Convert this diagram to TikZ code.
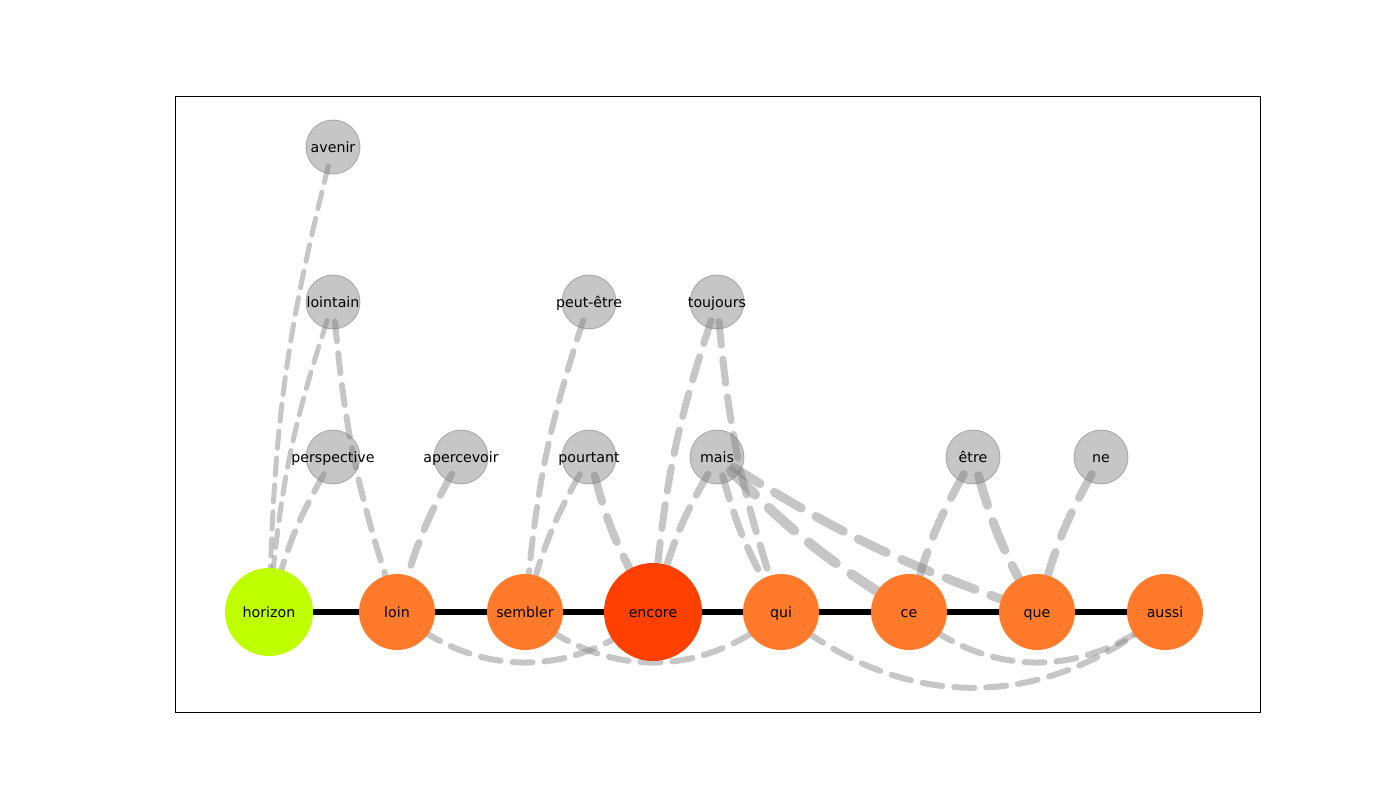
\documentclass[tikz,border=0pt]{standalone}
\usepackage{fontspec}
\setmainfont{DejaVu Sans}
\pgfdeclarelayer{bg}
\pgfsetlayers{bg,main}
\definecolor{orng}{RGB}{255,122,42}
\definecolor{encc}{RGB}{255,64,0}
\definecolor{limec}{RGB}{192,255,0}
\definecolor{gbase}{RGB}{128,128,128}
\begin{document}
\begin{tikzpicture}[x=1pt,y=-1pt,
  lbl/.style={font=\fontsize{14.2}{16}\selectfont, text=black, text opacity=1, inner sep=0pt,
              text height=13pt, text depth=3pt},
  mainn/.style={circle, inner sep=0pt, minimum size=76pt, fill=orng, lbl},
  grayn/.style={circle, inner sep=0pt, minimum size=54pt, fill=gbase, fill opacity=0.45,
                draw=gbase, draw opacity=0.5, line width=1pt, label={[lbl]center:#1}},
  ge/.style={draw=gbase, draw opacity=0.45, line cap=round, shorten <=-8pt},
  w5/.style={ge, line width=5pt, dash pattern=on 17pt off 10pt},
  w6/.style={ge, line width=6pt, dash pattern=on 20pt off 12pt},
  w7/.style={ge, line width=7pt, dash pattern=on 24pt off 14pt},
  w8/.style={ge, line width=8pt, dash pattern=on 27pt off 16pt},
  w9/.style={ge, line width=9pt, dash pattern=on 31pt off 17pt},
  w10/.style={ge, line width=10pt, dash pattern=on 34pt off 19pt},
  chain/.style={draw=black, line width=6.5pt},
  arcb/.style={bend right=40, looseness=1.05},
  upb/.style={bend right=6}
]
\useasboundingbox (0,0) rectangle (1400,800);
\draw[line width=0.9pt] (175,96) rectangle (1260,712);

% main row
\node[mainn, fill=limec, minimum size=88pt] (horizon) at (269,612) {horizon};
\node[mainn] (loin) at (397,612) {loin};
\node[mainn] (sembler) at (525,612) {sembler};
\node[mainn, fill=encc, minimum size=98pt] (encore) at (653,612) {encore};
\node[mainn] (qui) at (781,612) {qui};
\node[mainn] (ce) at (909,612) {ce};
\node[mainn] (que) at (1037,612) {que};
\node[mainn] (aussi) at (1165,612) {aussi};

% gray nodes
\node[grayn=perspective] (perspective) at (333,457) {};
\node[grayn=apercevoir] (apercevoir) at (461,457) {};
\node[grayn=pourtant] (pourtant) at (589,457) {};
\node[grayn=mais] (mais) at (717,457) {};
\node[grayn=être] (etre) at (973,457) {};
\node[grayn=ne] (ne) at (1101,457) {};
\node[grayn=lointain] (lointain) at (333,302) {};
\node[grayn=peut-être] (peutetre) at (589,302) {};
\node[grayn=toujours] (toujours) at (717,302) {};
\node[grayn=avenir] (avenir) at (333,147) {};

\begin{pgfonlayer}{bg}
  \draw[chain] (horizon) -- (loin);
  \draw[chain] (loin) -- (sembler);
  \draw[chain] (sembler) -- (encore);
  \draw[chain] (encore) -- (qui);
  \draw[chain] (qui) -- (ce);
  \draw[chain] (ce) -- (que);
  \draw[chain] (que) -- (aussi);

  \draw[w5] (avenir) to[upb] (horizon);
  \draw[w5] (lointain) to[upb] (horizon);
  \draw[w6] (perspective) to[upb] (horizon);
  \draw[w6] (lointain) to[upb] (loin);
  \draw[w7] (apercevoir) to[upb] (loin);
  \draw[w6] (peutetre) to[upb] (sembler);
  \draw[w6] (pourtant) to[upb] (sembler);
  \draw[w8] (pourtant) to[upb] (encore);
  \draw[w7] (toujours) to[upb] (encore);
  \draw[w7] (mais) to[upb] (encore);
  \draw[w7] (toujours) to[upb] (qui);
  \draw[w7] (mais) to[upb] (qui);
  \draw[w10] (mais) to[upb] (ce);
  \draw[w9] (mais) to[upb] (que);
  \draw[w8] (etre) to[upb] (ce);
  \draw[w9] (etre) to[upb] (que);
  \draw[w8] (ne) to[upb] (que);

  \draw[w6, shorten <=0pt] (loin.center) to[arcb] (encore.center);
  \draw[w6, shorten <=0pt] (sembler.center) to[arcb] (qui.center);
  \draw[w6, shorten <=0pt] (qui.center) to[arcb] (aussi.center);
  \draw[w6, shorten <=0pt] (ce.center) to[arcb] (aussi.center);
\end{pgfonlayer}
\end{tikzpicture}
\end{document}
